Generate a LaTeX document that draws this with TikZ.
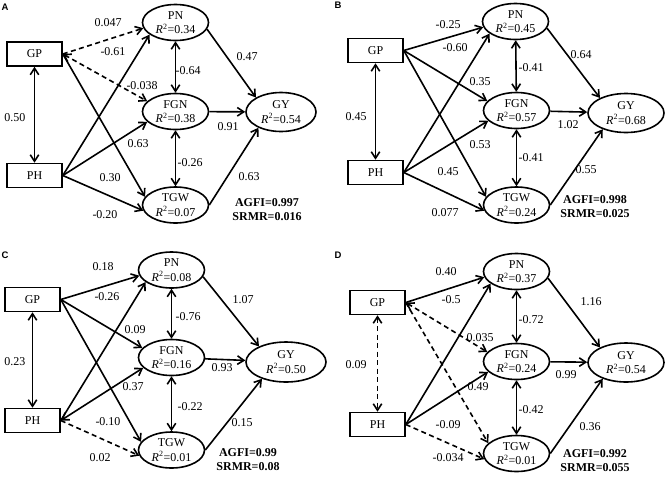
\documentclass[tikz,border=0pt]{standalone}
\usepackage{fontspec}
\setmainfont{Liberation Serif}
\newfontfamily\panelfont{Liberation Sans}
\usetikzlibrary{shapes.geometric,arrows.meta}

\newcommand{\rsq}[1]{\textit{R}\textsuperscript{2}=#1}

\tikzset{
	obs/.style={draw,rectangle,minimum width=55pt,minimum height=24pt,inner sep=0pt},
	lat/.style={draw,ellipse,minimum width=66pt,minimum height=36pt,inner sep=0pt,align=center},
	outc/.style={lat,minimum width=76pt,minimum height=39pt},
	stats/.style={align=center,font=\fontsize{12}{14}\selectfont\bfseries},
	panel/.style={font=\panelfont\bfseries\fontsize{9.5}{9.5}\selectfont},
	num/.style={inner sep=1pt},
	dsh/.style={dash pattern=on 5pt off 3.5pt}
}

\begin{document}
\begin{tikzpicture}[x=1pt,y=-1pt,line width=1.6pt,>={Straight Barb[length=6.5pt,width=8.5pt]},font=\fontsize{12}{14.5}\selectfont]
		\useasboundingbox (0,0) rectangle (666,480);
		
		\node [panel] (aTag) at (5,7) {A};
		\node [obs] (aGP) at (34.5,54) {GP};
		\node [obs] (aPH) at (34.5,175.5) {PH};
		\node [lat] (aPN) at (175.5,22.5) {PN\\\rsq{0.34}};
		\node [lat] (aFGN) at (175.5,111.5) {FGN\\\rsq{0.38}};
		\node [lat] (aTGW) at (175.5,205) {TGW\\\rsq{0.07}};
		\node [outc,minimum width=70pt] (aGY) at (281,112) {GY\\\rsq{0.54}};
		\node [stats] (aFit) at (267,210) {AGFI=0.997\\SRMR=0.016};
		
		\draw [->,dsh] (aGP.east) -- (aPN.190);
		\draw [<->,dsh] (aGP.east) -- (aFGN.160);
		\draw [->] (aGP.east) -- (aTGW.165);
		\draw [->] (aPH.east) -- (aPN.205);
		\draw [->] (aPH.east) -- (aFGN.200);
		\draw [->] (aPH.east) -- (aTGW.190);
		\draw [<->] (aGP) -- (aPH);
		\draw [<->] (aPN) -- (aFGN);
		\draw [<->] (aFGN) -- (aTGW);
		\draw [->] (aPN.-12) -- (aGY.150);
		\draw [->] (aFGN) -- (aGY);
		\draw [->] (aTGW.east) -- (aGY.215);
		
		\node [num] (aW1) at (108,23) {0.047};
		\node [num] (aW2) at (113,52) {-0.61};
		\node [num] (aW3) at (188,71) {-0.64};
		\node [num] (aW4) at (247,57) {0.47};
		\node [num] (aW5) at (142,86) {-0.038};
		\node [num] (aW6) at (15,118) {0.50};
		\node [num] (aW7) at (228,127) {0.91};
		\node [num] (aW8) at (138,144) {0.63};
		\node [num] (aW9) at (190,163) {-0.26};
		\node [num] (aW10) at (110,178) {0.30};
		\node [num] (aW11) at (249,177) {0.63};
		\node [num] (aW12) at (105,215) {-0.20};
		
		\node [panel] (bTag) at (338,5) {B};
		\node [obs] (bGP) at (375.5,50.5) {GP};
		\node [obs] (bPH) at (375.5,172.5) {PH};
		\node [lat] (bPN) at (515.5,21.5) {PN\\\rsq{0.45}};
		\node [lat] (bFGN) at (516.5,110.5) {FGN\\\rsq{0.57}};
		\node [lat] (bTGW) at (516.5,205) {TGW\\\rsq{0.24}};
		\node [outc] (bGY) at (626,113) {GY\\\rsq{0.68}};
		\node [stats] (bFit) at (595,207) {AGFI=0.998\\SRMR=0.025};
		
		\draw [->] (bGP.east) -- (bPN.190);
		\draw [->] (bGP.east) -- (bFGN.162);
		\draw [->] (bGP.east) -- (bTGW.165);
		\draw [->] (bPH.east) -- (bPN.205);
		\draw [->] (bPH.east) -- (bFGN.200);
		\draw [->] (bPH.east) -- (bTGW.190);
		\draw [<->] (bGP) -- (bPH);
		\draw [<->] (bPN) -- (bFGN);
		\draw [<->] (bFGN) -- (bTGW);
		\draw [->] (bPN.-12) -- (bGY.150);
		\draw [->] (bFGN) -- (bGY);
		\draw [->] (bTGW.east) -- (bGY.215);
		
		\node [num] (bW1) at (448,25) {-0.25};
		\node [num] (bW2) at (455,48) {-0.60};
		\node [num] (bW3) at (581,55) {0.64};
		\node [num] (bW4) at (531,68) {-0.41};
		\node [num] (bW5) at (480,82) {0.35};
		\node [num] (bW6) at (356,117) {0.45};
		\node [num] (bW7) at (568,125) {1.02};
		\node [num] (bW8) at (480,145) {0.53};
		\node [num] (bW9) at (531,158) {-0.41};
		\node [num] (bW10) at (586,170) {0.55};
		\node [num] (bW11) at (448,172) {0.45};
		\node [num] (bW12) at (445,213) {0.077};
		
		\node [panel] (cTag) at (5,255) {C};
		\node [obs] (cGP) at (32.5,299.5) {GP};
		\node [obs] (cPH) at (32.5,420.5) {PH};
		\node [lat] (cPN) at (171.5,270) {PN\\\rsq{0.08}};
		\node [lat] (cFGN) at (171.5,357.5) {FGN\\\rsq{0.16}};
		\node [lat] (cTGW) at (171.5,450) {TGW\\\rsq{0.01}};
		\node [outc,minimum width=80pt,minimum height=40pt] (cGY) at (286,362) {GY\\\rsq{0.50}};
		\node [stats] (cFit) at (248,459.5) {AGFI=0.99\\SRMR=0.08};
		
		\draw [->] (cGP.east) -- (cPN.190);
		\draw [->] (cGP.east) -- (cFGN.162);
		\draw [->] (cGP.east) -- (cTGW.165);
		\draw [->] (cPH.east) -- (cPN.205);
		\draw [<->] (cPH.east) -- (cFGN.200);
		\draw [->,dsh] (cPH.east) -- (cTGW.190);
		\draw [<->] (cGP) -- (cPH);
		\draw [<->] (cPN) -- (cFGN);
		\draw [<->] (cFGN) -- (cTGW);
		\draw [->] (cPN.-12) -- (cGY.150);
		\draw [->] (cFGN) -- (cGY);
		\draw [->] (cTGW.east) -- (cGY.215);
		
		\node [num] (cW1) at (103,267) {0.18};
		\node [num] (cW2) at (107,297) {-0.26};
		\node [num] (cW3) at (243,300) {1.07};
		\node [num] (cW4) at (188,317) {-0.76};
		\node [num] (cW5) at (135,330) {0.09};
		\node [num] (cW6) at (15,362) {0.23};
		\node [num] (cW7) at (222,368) {0.93};
		\node [num] (cW8) at (133,387) {0.37};
		\node [num] (cW9) at (190,407) {-0.22};
		\node [num] (cW10) at (242,423) {0.15};
		\node [num] (cW11) at (108,422) {-0.10};
		\node [num] (cW12) at (100,458) {0.02};
		
		\node [panel] (dTag) at (338,255) {D};
		\node [obs] (dGP) at (377.5,302.5) {GP};
		\node [obs] (dPH) at (377.5,424.5) {PH};
		\node [lat] (dPN) at (516.5,271.5) {PN\\\rsq{0.37}};
		\node [lat] (dFGN) at (516.5,361.5) {FGN\\\rsq{0.24}};
		\node [lat] (dTGW) at (516.5,453.5) {TGW\\\rsq{0.01}};
		\node [outc] (dGY) at (626,362.5) {GY\\\rsq{0.54}};
		\node [stats] (dFit) at (595,460.5) {AGFI=0.992\\SRMR=0.055};
		
		\draw [->] (dGP.east) -- (dPN.190);
		\draw [<->,dsh] (dGP.east) -- (dFGN.162);
		\draw [->,dsh] (dGP.east) -- (dTGW.160);
		\draw [->] (dPH.east) -- (dPN.205);
		\draw [->] (dPH.east) -- (dFGN.200);
		\draw [->,dsh] (dPH.east) -- (dTGW.190);
		\draw [<->,dsh] (dGP) -- (dPH);
		\draw [<->] (dPN) -- (dFGN);
		\draw [<->] (dFGN) -- (dTGW);
		\draw [->] (dPN.-12) -- (dGY.150);
		\draw [->] (dFGN) -- (dGY);
		\draw [->] (dTGW.east) -- (dGY.215);
		
		\node [num] (dW1) at (446,272) {0.40};
		\node [num] (dW2) at (451,300) {-0.5};
		\node [num] (dW3) at (591,302) {1.16};
		\node [num] (dW4) at (531,320) {-0.72};
		\node [num] (dW5) at (480,338) {0.035};
		\node [num] (dW6) at (356,365) {0.09};
		\node [num] (dW7) at (566,375) {0.99};
		\node [num] (dW8) at (478,387) {0.49};
		\node [num] (dW9) at (531,410) {-0.42};
		\node [num] (dW10) at (590,427) {0.36};
		\node [num] (dW11) at (448,425) {-0.09};
		\node [num] (dW12) at (448,458) {-0.034};
	\end{tikzpicture}
\end{document}
